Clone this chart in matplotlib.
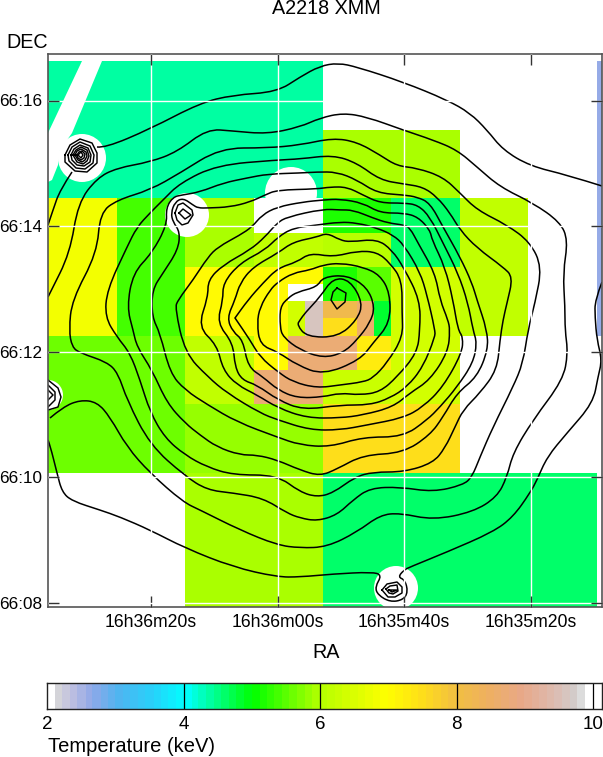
import numpy as np
import matplotlib
matplotlib.use('Agg')
import matplotlib.pyplot as plt
from matplotlib.colors import LinearSegmentedColormap
from matplotlib.patches import Circle, Polygon, PathPatch
from matplotlib.path import Path

plt.rcParams['font.family'] = ['Liberation Sans', 'DejaVu Sans']

# all map positions are in image coordinates of the map (x to the right, y down)

#tick positions and labels
ra_ticks = [151, 278, 404, 531]
ra_labels = ['16h36m20s', '16h36m00s', '16h35m40s', '16h35m20s']
dec_ticks = [100.5, 226, 351.5, 477, 603]
dec_labels = ['66:16', '66:14', '66:12', '66:10', '66:08']
bar_ticks = [2, 4, 6, 8, 10]

#temperature bins (keV), in cells of the binned map
block_col = [0, 16, 16, 20, 24, 16, 0, 4, 8, 12, 8, 12, 14, 14, 15, 16, 16, 16, 18, 18, 19, 20, 0, 8, 8,
             12, 14, 16, 18, 12, 16, 20, 12, 16, 8, 16, 32]
block_row = [0, 4, 8, 8, 8, 10, 8, 8, 8, 10, 12, 12, 12, 14, 14, 12, 14, 15, 12, 14, 14, 12, 16, 16, 20,
             16, 16, 16, 16, 18, 18, 16, 20, 20, 24, 24, 0]
block_w = [16, 8, 4, 4, 4, 4, 4, 4, 4, 4, 4, 4, 2, 1, 1, 2, 2, 2, 2, 1, 1, 4, 8, 4, 4,
           2, 2, 2, 2, 4, 4, 4, 4, 8, 8, 16, 1]
block_h = [8, 4, 2, 4, 8, 2, 8, 8, 4, 2, 4, 4, 1, 2, 2, 2, 1, 1, 2, 2, 2, 4, 8, 4, 4,
           2, 2, 2, 2, 2, 2, 4, 4, 4, 8, 8, 16]
block_temp = [4.4, 5.94, 5.15, 4.6, 6.2, 6.05, 6.85, 5.43, 5.9, 6.2, 7.1, 7.05, 7.05, 6.35, 9.6, 5.19, 8.2, 7.5, 5.47,
              8.6, 4.87, 6.37, 5.62, 6.2, 5.83, 7.05, 8.75, 8.75, 7.25, 8.75, 6.32, 6.37, 5.83, 7.5, 5.94, 4.6, 2.6]

#bins dropped from the map
empty_col = [14, 12]
empty_row = [13, 8]
empty_w = [2, 4]
empty_h = [1, 2]

#masked point sources: centre x, centre y, radius
mask_x = [82, 187, 48, 396, 291]
mask_y = [158, 215, 395, 588, 193]
mask_r = [24, 22, 15, 22, 26]
strip = [(82, 61), (102, 61), (72, 133), (60, 150), (58, 165), (52, 180), (48, 182), (48, 133)]

#colour scale
scale_t = [2.0, 2.08, 2.3, 2.6, 3.0, 3.5, 4.0, 4.5, 5.0, 6.0, 7.0, 7.5, 8.0, 8.5, 9.0, 9.5, 9.85, 10.0]
scale_c = ['#ffffff', '#d8d8d8', '#c0c0e0', '#90a8e8', '#50b4f0', '#28d0fa', '#00ffff', '#00ff80', '#00ff00',
           '#b4ff00', '#ffff00', '#ffdf18', '#f2c040', '#eeb060', '#e8a888', '#ddbbb0', '#d0d0d0', '#ffffff']

#x-ray contours
cont_a1 = [(97,147),(105,148),(150,129),(200,103),(233,95),(277,92),(300,77),(320,66),(338,63),(357,67),(403,82),
           (447,100),(470,113),(487,130),(503,150),(530,166),(567,175),(602,186)]
cont_a2 = [(602,282),(595,300),(595,317),(597,340),(602,360),(598,377),(593,403),(567,433),(547,457),(537,480),
           (530,493),(513,517),(493,532),(447,552),(410,567),(404,570),(398,577),(405,580),(408,592),(403,600),
           (390,602),(378,595),(375,587),(382,575),(372,572),(333,574),(300,577),(277,577),(233,567),(185,548),
           (150,530),(120,517),(100,510),(72,501),(62,492),(57,473),(50,445),(48,440)]
cont_a3 = [(72,172),(60,190),(53,210),(48,225)]
cont_b = [(48,297),(50,293),(70,253),(78,203),(97,178),(117,168),(150,162),(177,152),(207,129),(233,131),(267,134),
          (300,127),(320,118),(343,113),(367,117),(403,130),(433,140),(457,150),(477,167),(500,187),(533,203),
          (560,222),(568,240),(563,273),(565,307),(565,330),(568,353),(563,380),(533,420),(513,453),(507,477),
          (497,497),(473,512),(433,520),(400,513),(380,515),(357,532),(327,547),(300,548),(277,545),(240,530),
          (200,510),(183,502),(150,473),(127,447),(110,417),(97,402),(80,400),(63,407),(50,418)]
cont_c = [(300,145),(333,138),(357,142),(380,155),(397,166),(417,168),(443,177),(460,193),(477,210),(507,225),
          (530,242),(542,267),(535,303),(528,330),(523,363),(513,387),(493,427),(480,457),(472,477),(463,485),
          (433,492),(400,487),(370,488),(353,500),(337,515),(317,521),(300,518),(287,513),(263,498),(233,493),
          (207,490),(185,476),(150,445),(127,400),(118,373),(107,362),(80,353),(72,347),(69,330),(72,300),
          (97,253),(100,213),(117,200),(150,190),(180,173),(220,148),(267,148),(300,145)]
cont_d = [(300,159),(333,155),(357,163),(380,180),(404,184),(423,187),(437,197),(450,213),(460,230),(477,248),
          (503,267),(513,277),(507,303),(503,320),(500,340),(497,370),(480,393),(463,410),(455,427),(445,448),
          (433,463),(404,472),(373,472),(355,477),(333,493),(317,497),(300,492),(277,475),(233,475),(207,467),
          (185,455),(165,438),(150,412),(140,380),(130,353),(117,337),(105,317),(107,290),(127,247),(137,227),
          (150,213),(163,200),(180,183),(217,165),(277,160),(300,159)]
cont_e = [(300,173),(317,172),(337,172),(357,180),(377,193),(404,195),(417,197),(430,203),(443,227),(460,257),
          (472,283),(477,300),(487,330),(488,350),(477,377),(457,393),(443,417),(430,435),(403,453),(363,455),
          (337,469),(320,476),(300,470),(277,460),(257,455),(240,455),(217,447),(200,435),(185,423),(167,403),
          (152,370),(137,347),(133,330),(127,307),(133,273),(152,253),(167,225),(166,208),(173,197),(182,195),
          (200,192),(223,183),(247,178),(268,174),(300,173)]
cont_f = [(330,187),(347,187),(363,195),(380,203),(404,203),(418,205),(430,217),(443,243),(458,273),(468,303),
          (473,330),(477,343),(473,363),(457,387),(440,407),(427,420),(403,437),(363,437),(330,447),(300,445),
          (277,437),(237,422),(208,405),(185,390),(170,373),(160,333),(152,317),(152,290),(163,273),(178,250),
          (180,232),(173,222),(171,213),(175,202),(183,198),(193,205),(198,208),(208,208),(230,207),(250,202),
          (265,195),(277,190),(317,189),(330,187)]
cont_g = [(340,199),(363,203),(380,213),(404,213),(418,217),(430,230),(432,240),(445,267),(453,300),(458,330),
          (463,337),(462,353),(443,387),(423,407),(403,418),(367,425),(340,430),(310,430),(278,420),(260,413),
          (227,393),(208,377),(185,353),(175,308),(178,300),(193,280),(208,257),(218,247),(240,235),(252,227),
          (262,215),(277,207),(303,202),(323,200),(340,199)]
cont_h = [(340,210),(353,210),(373,218),(388,223),(404,225),(410,228),(418,243),(435,273),(440,300),(448,320),
          (450,330),(448,352),(430,380),(410,393),(393,407),(363,415),(340,418),(307,418),(278,408),(257,395),
          (237,385),(223,370),(217,345),(198,327),(208,297),(208,280),(223,265),(250,250),(265,237),(277,223),
          (287,217),(323,209),(340,210)]
cont_i = [(340,222),(357,223),(377,228),(393,235),(404,245),(420,272),(427,295),(435,330),(435,337),(423,367),
          (407,387),(390,398),(370,405),(340,405),(303,410),(278,400),(257,385),(242,380),(235,367),(233,343),
          (217,323),(223,300),(223,283),(240,263),(265,250),(278,237),(293,228),(317,225),(340,222)]
cont_j = [(340,240),(350,242),(377,239),(392,250),(404,268),(420,300),(420,330),(417,353),(397,377),(380,392),
          (360,395),(340,393),(323,397),(297,398),(278,390),(263,377),(248,367),(243,340),(233,332),(227,318),
          (235,300),(240,283),(253,267),(278,253),(293,242),(317,237),(327,233),(340,240)]
cont_k = [(333,257),(357,251),(377,252),(390,263),(402,280),(402,313),(403,337),(387,363),(373,378),(363,382),
          (340,385),(317,388),(293,382),(278,372),(260,357),(250,340),(235,318),(235,318),(248,300),(263,283),(278,268),
          (297,262),(310,253),(333,257)]
cont_l = [(340,263),(363,267),(380,275),(390,293),(390,323),(373,343),(360,360),(323,375),(297,365),(278,352),
          (260,345),(257,323),(260,307),(270,290),(278,282),(293,273),(310,270),(323,265),(340,263)]
cont_m = [(347,275),(367,287),(375,307),(370,323),(357,340),(343,353),(323,358),(300,350),(283,337),(280,327),
          (280,307),(288,298),(297,292),(317,287),(323,277),(347,275)]
cont_n = [(333,278),(350,280),(363,303),(357,320),(338,337),(307,337),(297,325),(300,320),(305,313),(320,297),(333,278)]
cont_o = [(337,288),(346,293),(345,302),(337,309),(331,300),(333,292),(337,288)]

#contours around the point sources
src1 = [[(65,155),(70,145),(80,139),(92,143),(97,153),(97,163),(87,172),(75,171),(65,162),(65,155)],
        [(68,155),(72,147),(80,142),(90,146),(94,155),(93,163),(85,169),(76,168),(69,161),(68,155)],
        [(71,155),(74,149),(80,145),(88,148),(91,155),(90,162),(84,166),(77,165),(72,160),(71,155)],
        [(73,155),(76,150),(81,147),(87,150),(89,156),(87,161),(83,164),(77,162),(73,155)],
        [(75,155),(77,151),(81,149),(86,152),(87,156),(85,160),(82,162),(78,160),(75,155)],
        [(77,155),(79,152),(82,151),(85,154),(84,158),(81,160),(78,158),(77,155)],
        [(78,155),(81,152),(83,155),(81,158),(78,155)]]
src2 = [[(175,213),(178,205),(183,203),(192,210),(193,215),(188,223),(182,225),(177,220),(175,213)],
        [(179,213),(183,209),(191,215),(185,219),(179,213)]]
src3 = [[(48,380),(58,388),(61,397),(58,407),(48,410)],
        [(48,385),(55,392),(55,400),(48,407)],
        [(48,390),(53,395),(48,400)]]
src4 = [[(382,590),(387,584),(397,582),(402,587),(402,593),(395,597),(388,597),(382,590)],
        [(386,589),(390,586),(397,585),(398,591),(393,594),(389,593),(386,589)],
        [(389,590),(397,590),(392,592),(389,590)]]

smooth_lines = [cont_a1, cont_a2, cont_a3, cont_b, cont_c, cont_d, cont_e, cont_f, cont_g, cont_h,
                cont_i, cont_j, cont_k, cont_l, cont_m, cont_n]
sharp_lines = [cont_o] + src1 + src2 + src3 + src4


def curve_path(line):
    # round the polyline corners with quadratic segments, vertices stay the control points
    pts = np.array(line, dtype=float)
    closed = (pts[0] == pts[-1]).all()
    if closed:
        pts = pts[:-1]
        mids = (pts + np.roll(pts, -1, axis=0)) / 2
        verts = [mids[-1]]
        codes = [Path.MOVETO]
        for p, m in zip(pts, mids):
            verts += [p, m]
            codes += [Path.CURVE3, Path.CURVE3]
    else:
        verts = [pts[0]]
        codes = [Path.MOVETO]
        for i in range(1, len(pts) - 1):
            m = pts[-1] if i == len(pts) - 2 else (pts[i] + pts[i + 1]) / 2
            verts += [pts[i], m]
            codes += [Path.CURVE3, Path.CURVE3]
    return Path(verts, codes)


cmap = LinearSegmentedColormap.from_list(
    'temp', [((t - 2) / 8, c) for t, c in zip(scale_t, scale_c)], N=72)
cmap.set_bad('white')

W, H = 603, 757
fig = plt.figure(figsize=(W / 100, H / 100), dpi=100)
ax = fig.add_axes([48 / W, 1 - 607 / H, 554 / W, 553 / H])

#binned temperature map
cell = 17.16
x_edges = 48 + cell * np.arange(34)
y_edges = 61 + cell * np.arange(33)
temp = np.full((32, 33), np.nan)
for c, r, w, h, t in zip(block_col, block_row, block_w, block_h, block_temp):
    temp[r:r + h, c:c + w] = t
for c, r, w, h in zip(empty_col, empty_row, empty_w, empty_h):
    temp[r:r + h, c:c + w] = np.nan
ax.pcolormesh(x_edges, y_edges, np.ma.masked_invalid(temp), cmap=cmap, vmin=2, vmax=10, zorder=1)

#holes
for x, y, r in zip(mask_x, mask_y, mask_r):
    ax.add_patch(Circle((x, y), r, fc='white', ec='none', zorder=1.5))
ax.add_patch(Polygon(strip, closed=True, fc='white', ec='none', zorder=1.5))

for line in smooth_lines:
    ax.add_patch(PathPatch(curve_path(line), fc='none', ec='black', lw=1.1, zorder=2))
for line in sharp_lines:
    pts = np.array(line)
    ax.plot(pts[:, 0], pts[:, 1], color='black', lw=1.05, zorder=2)

ax.set_xlim(48, 602)
ax.set_ylim(607, 54)
ax.set_xticks(ra_ticks)
ax.set_xticklabels(ra_labels, fontsize=12.7)
ax.set_yticks(dec_ticks)
ax.set_yticklabels(dec_labels, fontsize=12.3)
ax.grid(True, color='white', lw=1.0)
ax.set_axisbelow(False)
ax.tick_params(direction='in', length=8, width=1, color='#333333', top=True, right=True)
ax.tick_params(axis='x', pad=5)
ax.tick_params(axis='y', pad=4.5)
for s in ax.spines.values():
    s.set_color('#555555')
    s.set_linewidth(1.2)

fig.text(326 / W, 1 - 9 / H, 'A2218 XMM', fontsize=14.2, ha='center', va='center')
fig.text(6 / W, 1 - 43 / H, 'DEC', fontsize=14.2, ha='left', va='center')
fig.text(326 / W, 1 - 652 / H, 'RA', fontsize=14.2, ha='center', va='center')
fig.text(48 / W, 1 - 746 / H, 'Temperature (keV)', fontsize=14.5, ha='left', va='center')

#colour bar
cax = fig.add_axes([47 / W, 1 - 709 / H, 555 / W, 26 / H])
bar_values = np.linspace(2, 10, 721).reshape(1, -1)
bar_edges = np.linspace(2, 10, 722)
cax.pcolormesh(bar_edges, [0, 1], bar_values, cmap=cmap, vmin=2, vmax=10)
cax.set_xlim(2, 10.13)
cax.set_ylim(0, 1)
cax.set_yticks([])
cax.set_xticks(bar_ticks)
cax.set_xticklabels([str(t) for t in bar_ticks], fontsize=13.5)
cax.tick_params(axis='x', length=0, pad=5)
for t in bar_ticks[1:]:
    cax.axvline(t, color='black', lw=0.9)
for s in cax.spines.values():
    s.set_color('#222222')
    s.set_linewidth(1.0)

fig.savefig('out.png', dpi=100)
